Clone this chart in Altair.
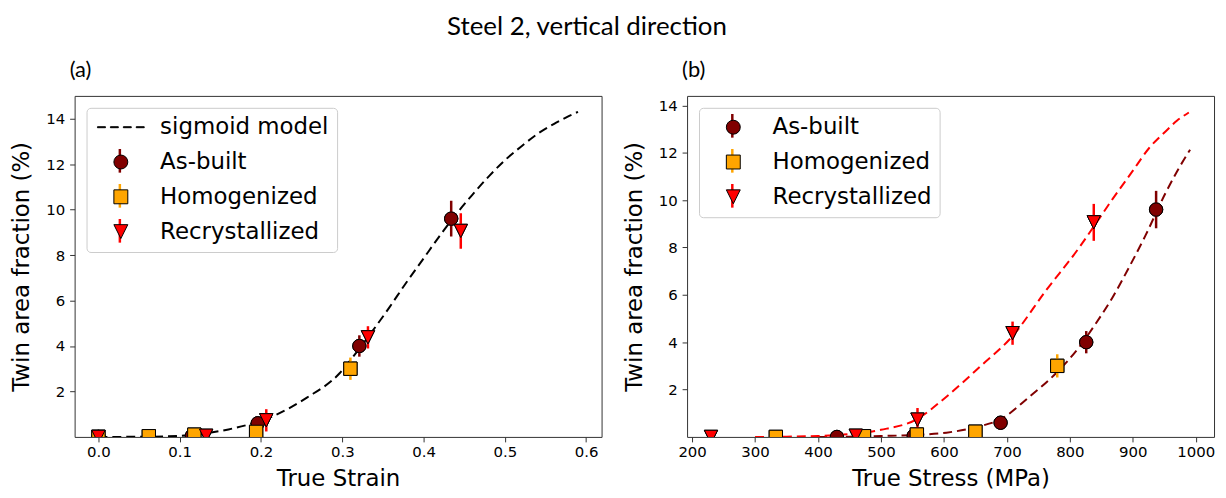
import altair as alt
import pandas as pd

# ---------------- data ----------------
series_names = ["As-built", "Homogenized", "Recrystallized"]
series_colors = ["#800000", "#FFA500", "#FF0000"]

# panel (a): true strain
strain_asbuilt = [0.0, 0.115, 0.196, 0.321, 0.434]
strain_homog = [0.0, 0.062, 0.118, 0.194, 0.310]
strain_recryst = [0.0, 0.1325, 0.2065, 0.3316, 0.4458]

# panel (b): true stress (MPa)
stress_asbuilt = [430, 552, 690, 826, 937]
stress_homog = [333, 473, 557, 650, 780]
stress_recryst = [230, 460, 558, 709, 838]

# twin area fraction (%) and error
twin_asbuilt = [0.0, 0.05, 0.6, 4.0, 9.6]
twin_homog = [0.0, 0.03, 0.1, 0.22, 3.0]
twin_recryst = [0.0, 0.05, 0.73, 4.38, 9.06]
err_asbuilt = [0.0, 0.05, 0.15, 0.47, 0.79]
err_homog = [0.0, 0.03, 0.05, 0.1, 0.49]
err_recryst = [0.0, 0.05, 0.49, 0.49, 0.78]

# sigmoid model (panel a)
sig_strain = [0.0, 0.05, 0.10, 0.13, 0.16, 0.19, 0.215, 0.256, 0.297, 0.317, 0.337,
              0.358, 0.378, 0.399, 0.419, 0.439, 0.460, 0.480, 0.501, 0.521, 0.541,
              0.562, 0.578, 0.59]
sig_twin = [0.0, 0.005, 0.05, 0.15, 0.33, 0.6, 0.92, 1.72, 2.81, 3.7, 4.65,
            5.7, 6.75, 7.8, 8.8, 9.75, 10.65, 11.45, 12.2, 12.8, 13.35,
            13.8, 14.1, 14.3]

# model curves (panel b)
rc_stress = [300, 350, 400, 450, 500, 557, 604, 657, 710, 762, 815, 841, 868, 899,
             926, 952, 970, 989]
rc_twin = [0.0, 0.01, 0.04, 0.12, 0.3, 0.75, 1.7, 2.96, 4.29, 6.18, 8.0, 9.0, 10.05,
           11.2, 12.2, 12.9, 13.35, 13.7]
ab_stress = [400, 450, 500, 552, 604, 657, 689, 736, 778, 815, 841, 868, 894, 920,
             952, 970, 991]
ab_twin = [0.0, 0.01, 0.04, 0.08, 0.18, 0.45, 0.73, 1.7, 2.69, 3.8, 4.78, 5.9, 7.16,
           8.5, 10.3, 11.2, 12.13]

# ---------------- tables ----------------
def point_table(xs_lists):
    rows = []
    for name, xs, ys, es in zip(series_names, xs_lists,
                                [twin_asbuilt, twin_homog, twin_recryst],
                                [err_asbuilt, err_homog, err_recryst]):
        for x, y, e in zip(xs, ys, es):
            rows.append({"x": x, "y": y, "lo": y - e, "hi": y + e, "series": name})
    return pd.DataFrame(rows)

left_pts = point_table([strain_asbuilt, strain_homog, strain_recryst])
right_pts = point_table([stress_asbuilt, stress_homog, stress_recryst])
sig_df = pd.DataFrame({"x": sig_strain, "y": sig_twin})
curves_df = pd.concat([
    pd.DataFrame({"x": ab_stress, "y": ab_twin, "series": "As-built"}),
    pd.DataFrame({"x": rc_stress, "y": rc_twin, "series": "Recrystallized"}),
])

# ---------------- styling helpers ----------------
DASH_PATH = ("M-3.36,-0.07H-2.21V0.07H-3.36Z M-1.5,-0.07H-0.36V0.07H-1.5Z "
             "M0.36,-0.07H1.5V0.07H0.36Z M2.21,-0.07H3.36V0.07H2.21Z")
TRI_PATH = "M0,1L-1,-1L1,-1Z"
ERR_PATH = "M0,-1.7V1.7"
FONT = "DejaVu Sans"
TFONT = "Lato"
LEG_PAD = 8


def main_legend():
    return alt.Legend(title=None, orient="top-left", offset=12, padding=LEG_PAD,
                      rowPadding=11, labelFont=FONT, labelFontSize=23, labelColor="black",
                      labelLimit=500, labelOffset=28, symbolOffset=15, symbolSize=196,
                      symbolStrokeWidth=1, symbolOpacity=1,
                      strokeColor="#cccccc", cornerRadius=4, zindex=2)


def err_legend():
    return alt.Legend(title=None, orient="none", legendX=12, legendY=10.6, padding=LEG_PAD,
                      rowPadding=0.2, labelFont=FONT, labelFontSize=23, labelLimit=500,
                      labelColor="transparent", labelOffset=28, symbolOffset=14,
                      symbolType=ERR_PATH, symbolSize=196, symbolStrokeWidth=2.5,
                      symbolFillColor="transparent", symbolOpacity=1,
                      fillColor="white", cornerRadius=4, zindex=1)


def x_axis(values, fmt, title):
    return alt.Axis(values=values, format=fmt, title=title, grid=False, domain=False,
                    tickSize=5, tickColor="#333333", labelFont=FONT, labelFontSize=15,
                    labelColor="black", labelPadding=3, titleFont=FONT, titleFontSize=23,
                    titleFontWeight="normal", titleColor="black", titlePadding=8)


def y_axis():
    return alt.Axis(values=[2, 4, 6, 8, 10, 12, 14], title="Twin area fraction (%)",
                    grid=False, domain=False, tickSize=5, tickColor="#333333",
                    labelFont=FONT, labelFontSize=15, labelColor="black", labelPadding=5,
                    titleFont=FONT, titleFontSize=23, titleFontWeight="normal",
                    titleColor="black", titlePadding=12)


def panel(pts, dom, fill_range, shape_range, stroke_range, xdomain, xvals, xfmt, xtitle,
          ymax, curve_layer_fn, label):
    xs = alt.Scale(domain=xdomain, nice=False, zero=False)
    ys = alt.Scale(domain=[0, ymax], nice=False, zero=False)
    xa = x_axis(xvals, xfmt, xtitle)
    ya = y_axis()
    base = alt.Chart(pts)

    def point_layer(with_legend):
        lf = main_legend() if with_legend else None
        return base.mark_point(filled=True, size=180, stroke="black", strokeWidth=1,
                               opacity=1, clip=True).encode(
            x=alt.X("x:Q", scale=xs, axis=xa),
            y=alt.Y("y:Q", scale=ys, axis=ya),
            fill=alt.Fill("series:N", scale=alt.Scale(domain=dom, range=fill_range),
                          legend=lf),
            shape=alt.Shape("series:N", scale=alt.Scale(domain=dom, range=shape_range),
                            legend=lf),
        )

    err = base.mark_rule(strokeWidth=2.5, clip=True).encode(
        x=alt.X("x:Q", scale=xs, axis=xa),
        y=alt.Y("lo:Q", scale=ys, axis=ya),
        y2="hi:Q",
        stroke=alt.Stroke("series:N", scale=alt.Scale(domain=dom, range=stroke_range),
                          legend=err_legend()),
    )
    curve = curve_layer_fn(xs, ys, xa, ya, dom, stroke_range)
    return alt.layer(point_layer(True), curve, err, point_layer(False)).properties(
        width=530, height=343,
        title=alt.TitleParams(label, anchor="start", frame="group", font=TFONT,
                              fontSize=22, fontWeight="normal", color="black",
                              dx=-5, offset=14),
    )


def left_curve(xs, ys, xa, ya, dom, stroke_range):
    return alt.Chart(sig_df).mark_line(stroke="black", strokeWidth=2, strokeDash=[9, 5],
                                       clip=True, interpolate="monotone").encode(
        x=alt.X("x:Q", scale=xs, axis=xa),
        y=alt.Y("y:Q", scale=ys, axis=ya),
    )


def right_curve(xs, ys, xa, ya, dom, stroke_range):
    return alt.Chart(curves_df).mark_line(strokeWidth=2, strokeDash=[9, 5], clip=True,
                                          interpolate="monotone").encode(
        x=alt.X("x:Q", scale=xs, axis=xa),
        y=alt.Y("y:Q", scale=ys, axis=ya),
        stroke=alt.Stroke("series:N", scale=alt.Scale(domain=dom, range=stroke_range),
                          legend=err_legend()),
        detail="series:N",
    )


left_dom = ["sigmoid model"] + series_names
left = panel(left_pts, left_dom, ["black"] + series_colors,
             [DASH_PATH, "circle", "square", TRI_PATH],
             ["transparent"] + series_colors,
             [-0.0293, 0.619], [0.0, 0.1, 0.2, 0.3, 0.4, 0.5, 0.6], ".1f", "True Strain",
             15.0, left_curve, "(a)")

right = panel(right_pts, series_names, series_colors, ["circle", "square", TRI_PATH],
              series_colors, [192, 1029], [200, 300, 400, 500, 600, 700, 800, 900, 1000],
              "d", "True Stress (MPa)", 14.4, right_curve, "(b)")

chart = alt.hconcat(left, right, spacing=20).resolve_scale(
    x="independent", y="independent", fill="independent", shape="independent",
    stroke="independent",
).properties(
    title=alt.TitleParams("Steel 2, vertical direction", font=TFONT, fontSize=26,
                          fontWeight="normal", color="black", anchor="middle", dx=-26,
                          offset=19),
    padding={"left": 2, "top": 4, "right": 2, "bottom": 0},
    background="white",
).configure_view(stroke="#333333", strokeWidth=1)

chart.save("out.html", embed_options={"renderer": "svg", "actions": False})
